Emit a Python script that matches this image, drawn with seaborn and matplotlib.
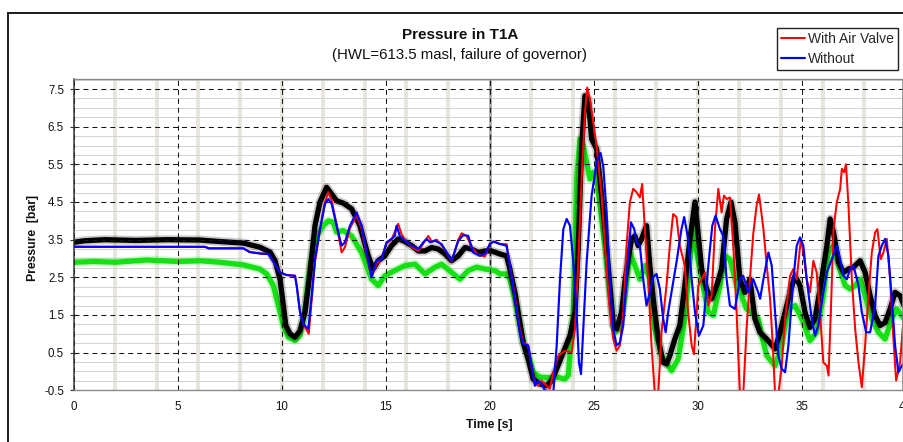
import numpy as np
import matplotlib
matplotlib.use("Agg")
import matplotlib.pyplot as plt
import seaborn as sns
from matplotlib.patches import Rectangle
from matplotlib.lines import Line2D

# ---------------- data ----------------
t_black = [0, 0.5, 1.5, 3, 4.5, 6.07, 7.03, 8.15, 8.95, 9.44,
           9.68, 9.92, 10.08, 10.2, 10.4, 10.64, 10.88, 11.12, 11.36, 11.6,
           11.84, 12.16, 12.4, 12.64, 12.96, 13.36, 13.76, 14.16, 14.4, 14.64,
           14.96, 15.28, 15.6, 15.92, 16.25, 16.57, 16.89, 17.21, 17.53, 17.85,
           18.17, 18.49, 18.81, 19.13, 19.45, 19.77, 20.09, 20.49, 20.81, 20.97,
           21.21, 21.45, 21.61, 21.85, 22.09, 22.41, 22.73, 22.97, 23.22, 23.54,
           23.86, 24.1, 24.26, 24.42, 24.58, 24.74, 24.9, 25.14, 25.3, 25.54,
           25.78, 25.94, 26.1, 26.34, 26.5, 26.66, 26.82, 26.98, 27.14, 27.3,
           27.54, 27.7, 27.86, 28.1, 28.34, 28.5, 28.66, 28.9, 29.14, 29.38,
           29.63, 29.87, 30.03, 30.19, 30.43, 30.67, 30.91, 31.15, 31.39, 31.6,
           31.79, 32.03, 32.27, 32.51, 32.75, 32.99, 33.32, 33.72, 33.96, 34.2,
           34.44, 34.68, 34.92, 35.16, 35.4, 35.64, 35.96, 36.21, 36.37, 36.53,
           36.77, 37.01, 37.25, 37.49, 37.81, 38.05, 38.29, 38.53, 38.77, 39.01,
           39.25, 39.49, 39.73, 39.92]
p_black = [3.43, 3.47, 3.5, 3.48, 3.5, 3.49, 3.45, 3.41, 3.3, 3.17,
           2.94, 2.45, 1.75, 1.22, 1.0, 0.91, 1.08, 1.57, 2.63, 3.87,
           4.5, 4.89, 4.71, 4.53, 4.47, 4.32, 3.87, 3.07, 2.72, 2.94,
           3.07, 3.34, 3.52, 3.45, 3.34, 3.2, 3.2, 3.29, 3.25, 3.12,
           2.94, 3.07, 3.29, 3.25, 3.16, 3.2, 3.2, 3.12, 3.07, 2.72,
           2.1, 1.3, 0.77, 0.33, -0.2, -0.33, -0.38, -0.25, 0.07, 0.51,
           0.95, 1.57, 3.34, 5.99, 7.32, 7.23, 6.17, 5.91, 5.11, 3.78,
           2.28, 1.22, 1.13, 1.57, 2.37, 2.98, 3.52, 3.6, 3.34, 3.52,
           3.87, 2.81, 1.93, 0.86, 0.24, 0.2, 0.42, 0.86, 1.22, 2.28,
           3.52, 4.5, 3.6, 2.72, 2.19, 1.93, 2.28, 2.72, 4.05, 4.5,
           3.96, 2.45, 2.1, 2.45, 1.4, 1.04, 0.86, 0.6, 1.04, 1.57,
           2.1, 2.54, 2.28, 1.57, 1.17, 1.4, 2.45, 3.34, 4.05, 3.69,
           2.9, 2.63, 2.72, 2.77, 2.94, 2.63, 2.01, 1.48, 1.22, 1.3,
           1.66, 2.1, 2.01, 1.75]

t_green = [0, 1, 2, 3.5, 5, 6.07, 7.03, 8.15, 8.95, 9.28,
           9.6, 9.84, 10.08, 10.32, 10.64, 10.88, 11.12, 11.36, 11.6, 12.0,
           12.24, 12.48, 12.64, 12.96, 13.36, 13.84, 14.32, 14.64, 14.96, 15.44,
           15.92, 16.41, 16.89, 17.37, 17.69, 18.17, 18.57, 18.97, 19.37, 19.77,
           20.25, 20.49, 20.81, 20.97, 21.21, 21.45, 21.61, 21.85, 22.09, 22.41,
           22.89, 23.22, 23.62, 23.78, 24.02, 24.18, 24.34, 24.5, 24.66, 24.82,
           24.98, 25.14, 25.3, 25.54, 25.78, 26.02, 26.26, 26.5, 26.74, 26.98,
           27.22, 27.46, 27.7, 27.94, 28.26, 28.74, 29.06, 29.38, 29.63, 29.79,
           29.95, 30.19, 30.51, 30.75, 31.07, 31.31, 31.55, 31.87, 32.11, 32.35,
           32.59, 32.91, 33.1, 33.32, 33.72, 34.04, 34.36, 34.68, 35.0, 35.4,
           35.72, 36.04, 36.29, 36.53, 36.77, 37.09, 37.33, 37.57, 37.81, 38.05,
           38.37, 38.69, 39.01, 39.33, 39.57, 39.92]
p_green = [2.9, 2.92, 2.9, 2.96, 2.92, 2.94, 2.9, 2.83, 2.72, 2.59,
           2.28, 1.75, 1.22, 0.91, 0.82, 0.96, 1.66, 2.81, 3.52, 3.87,
           4.0, 3.96, 3.7, 3.74, 3.6, 3.16, 2.45, 2.28, 2.54, 2.68,
           2.81, 2.85, 2.59, 2.77, 2.85, 2.63, 2.45, 2.68, 2.77, 2.72,
           2.68, 2.59, 2.59, 2.45, 1.93, 1.22, 0.77, 0.42, -0.02, -0.15,
           -0.17, -0.15, -0.2, -0.1, 1.57, 5.11, 6.17, 5.99, 5.55, 5.11,
           5.29, 5.11, 4.4, 3.34, 2.01, 1.04, 1.13, 2.01, 3.16, 2.81,
           2.45, 2.81, 2.45, 1.13, 0.42, 0.02, 0.33, 1.4, 2.98, 3.78,
           3.16, 2.45, 1.57, 1.49, 2.28, 3.07, 2.98, 2.28, 2.01, 1.66,
           1.57, 1.4, 0.9, 0.42, 0.15, 0.69, 1.66, 1.75, 1.4, 0.82,
           1.04, 2.01, 3.16, 3.34, 2.81, 2.28, 2.19, 2.28, 2.45, 2.01,
           1.4, 1.04, 0.86, 1.4, 1.66, 1.4]

t_without = [0, 6.3, 6.5, 8.15, 8.47, 9.0, 9.36, 9.52, 9.92, 10.24,
             10.64, 10.72, 10.88, 11.04, 11.2, 11.28, 11.44, 11.6, 11.84, 12.08,
             12.24, 12.4, 12.64, 12.88, 13.04, 13.28, 13.6, 13.84, 14.08, 14.32,
             14.56, 14.8, 15.04, 15.28, 15.44, 15.52, 15.68, 15.92, 16.25, 16.57,
             16.81, 16.97, 17.13, 17.37, 17.69, 17.93, 18.17, 18.49, 18.73, 18.97,
             19.21, 19.53, 19.77, 20.01, 20.17, 20.41, 20.81, 20.97, 21.21, 21.45,
             21.61, 21.85, 22.01, 22.17, 22.33, 22.49, 22.65, 23.06, 23.22, 23.38,
             23.54, 23.7, 23.86, 24.02, 24.18, 24.29, 24.39, 24.5, 24.66, 24.9,
             25.14, 25.33, 25.46, 25.62, 25.78, 25.94, 26.1, 26.26, 26.42, 26.58,
             26.79, 26.95, 27.06, 27.22, 27.38, 27.54, 27.7, 27.86, 28.02, 28.18,
             28.34, 28.46, 28.58, 28.74, 28.98, 29.22, 29.35, 29.54, 29.71, 29.87,
             30.06, 30.27, 30.51, 30.7, 30.86, 31.07, 31.23, 31.39, 31.55, 31.79,
             32.03, 32.19, 32.43, 32.67, 32.91, 33.0, 33.16, 33.4, 33.56, 33.72,
             33.88, 34.04, 34.2, 34.36, 34.6, 34.76, 34.92, 35.08, 35.24, 35.48,
             35.64, 35.8, 36.04, 36.21, 36.45, 36.69, 36.85, 37.01, 37.17, 37.33,
             37.49, 37.73, 37.89, 38.1, 38.29, 38.53, 38.69, 38.85, 39.01, 39.17,
             39.33, 39.49, 39.65, 39.81, 39.92]
p_without = [3.31, 3.31, 3.27, 3.27, 3.17, 3.13, 3.12, 2.98, 2.63, 2.56,
             2.54, 2.28, 1.57, 1.26, 1.17, 1.13, 2.0, 2.98, 3.78, 4.45,
             4.58, 4.45, 3.87, 3.34, 3.43, 3.87, 4.22, 3.87, 3.16, 2.5,
             2.94, 2.98, 3.43, 3.52, 3.6, 3.87, 3.6, 3.47, 3.34, 3.25,
             3.43, 3.52, 3.43, 3.47, 3.38, 3.16, 2.94, 3.47, 3.62, 3.6,
             3.16, 3.07, 3.12, 3.38, 3.45, 3.4, 3.34, 2.81, 1.93, 1.04,
             0.73, 0.69, 0.15, -0.38, -0.25, -0.33, -0.5, -0.55, 0.69, 2.45,
             3.78, 4.05, 3.87, 2.9, 1.57, 0.24, -0.07, 1.13, 2.9, 4.67,
             5.55, 5.8, 5.45, 4.22, 2.45, 1.13, 0.69, 0.77, 1.22, 2.45,
             3.96, 3.78, 3.43, 3.34, 2.45, 1.75, 2.1, 2.5, 2.59, 2.19,
             1.4, 1.04, 1.57, 2.1, 2.9, 3.78, 4.1, 3.52, 2.45, 1.57,
             0.95, 1.22, 2.81, 3.87, 4.14, 3.78, 3.6, 2.45, 1.75, 1.66,
             2.45, 2.54, 2.1, 2.45, 2.1, 1.93, 2.45, 3.16, 2.81, 1.57,
             0.42, 0.07, -0.02, 0.69, 2.45, 3.34, 3.56, 3.34, 2.45, 1.4,
             0.95, 1.22, 2.1, 2.63, 2.98, 3.34, 2.98, 2.54, 2.45, 2.72,
             2.81, 2.28, 1.57, 1.04, 1.04, 1.75, 3.07, 3.34, 3.52, 3.07,
             1.93, 0.69, -0.02, 0.15, 0.24]

t_valve = [0, 6.3, 6.5, 8.15, 8.47, 9.0, 9.36, 9.52, 9.92, 10.24,
           10.64, 10.72, 10.88, 11.04, 11.2, 11.3, 11.44, 11.6, 11.84, 12.08,
           12.24, 12.4, 12.64, 12.88, 13.04, 13.28, 13.6, 13.84, 14.08, 14.32,
           14.56, 14.8, 15.04, 15.28, 15.6, 15.76, 15.92, 16.25, 16.57, 16.81,
           17.05, 17.21, 17.45, 17.69, 17.93, 18.17, 18.49, 18.65, 18.89, 19.13,
           19.45, 19.77, 20.01, 20.25, 20.49, 20.81, 20.97, 21.21, 21.45, 21.61,
           21.85, 22.01, 22.17, 22.33, 22.49, 22.65, 22.89, 23.06, 23.3, 23.62,
           23.94, 24.1, 24.26, 24.42, 24.58, 24.69, 24.82, 24.98, 25.14, 25.38,
           25.54, 25.78, 25.94, 26.1, 26.26, 26.42, 26.58, 26.74, 26.9, 27.06,
           27.22, 27.33, 27.46, 27.62, 27.78, 27.94, 28.1, 28.26, 28.5, 28.66,
           28.82, 28.98, 29.14, 29.38, 29.54, 29.71, 29.82, 29.95, 30.03, 30.19,
           30.35, 30.51, 30.67, 30.83, 30.99, 31.15, 31.26, 31.39, 31.55, 31.71,
           31.87, 32.03, 32.19, 32.35, 32.51, 32.67, 32.83, 32.95, 33.16, 33.32,
           33.48, 33.61, 33.72, 33.88, 34.04, 34.2, 34.44, 34.6, 34.76, 34.96,
           35.08, 35.24, 35.4, 35.56, 35.72, 35.88, 36.04, 36.21, 36.29, 36.4,
           36.53, 36.69, 36.85, 36.93, 37.04, 37.13, 37.25, 37.41, 37.57, 37.73,
           37.89, 38.05, 38.21, 38.37, 38.53, 38.64, 38.8, 38.93, 39.09, 39.25,
           39.41, 39.54, 39.73, 39.92]
p_valve = [3.31, 3.31, 3.27, 3.27, 3.17, 3.13, 3.12, 2.98, 2.63, 2.56,
           2.54, 2.28, 1.6, 1.25, 1.1, 1.0, 1.9, 2.9, 3.75, 4.5,
           4.76, 4.55, 3.9, 3.16, 3.3, 3.8, 4.15, 3.8, 3.1, 2.5,
           2.85, 3.0, 3.4, 3.5, 3.92, 3.65, 3.5, 3.3, 3.2, 3.4,
           3.6, 3.45, 3.5, 3.35, 3.15, 2.92, 3.5, 3.67, 3.6, 3.3,
           3.1, 3.05, 3.4, 3.45, 3.38, 3.38, 2.81, 2.01, 1.13, 0.77,
           0.69, 0.15, -0.29, -0.38, -0.25, -0.33, -0.46, -0.02, 0.42, 0.55,
           0.51, 1.13, 2.9, 5.11, 6.88, 7.54, 7.23, 6.62, 5.99, 4.67,
           3.34, 1.57, 0.86, 0.55, 0.69, 1.57, 3.34, 4.5, 4.85, 4.76,
           4.62, 4.98, 3.78, 2.45, 0.69, -0.6, -0.6, 1.04, 2.28, 3.34,
           4.18, 4.1, 3.34, 2.81, 1.57, 0.69, 0.46, 1.57, 2.28, 2.45,
           2.63, 1.75, 2.01, 3.78, 4.85, 4.22, 4.67, 4.58, 4.62, 3.34,
           1.57, -0.6, -0.6, 1.13, 2.45, 3.65, 4.4, 4.7, 3.78, 2.81,
           1.93, 0.69, -0.6, -0.6, 0.15, 1.4, 2.54, 2.72, 2.45, 3.52,
           3.16, 2.45, 2.1, 2.94, 2.63, 1.57, 0.24, 0.15, -0.11, 1.57,
           3.78, 4.5, 4.85, 5.38, 5.29, 5.5, 4.4, 2.45, 1.13, 0.24,
           -0.42, 0.69, 2.01, 3.16, 3.69, 3.78, 2.98, 3.16, 3.52, 2.45,
           0.86, -0.24, 0.24, 1.57]

series_labels = ["With Air Valve", "Without"]
x_ticks = [0, 5, 10, 15, 20, 25, 30, 35, 40]
y_ticks = [-0.5, 0.5, 1.5, 2.5, 3.5, 4.5, 5.5, 6.5, 7.5]
title = "Pressure in T1A"
subtitle = "(HWL=613.5 masl, failure of governor)"

# ---------------- style ----------------
sns.set_theme(style="white")
plt.rcParams['font.family'] = ['Liberation Sans', 'DejaVu Sans']
plt.rcParams['axes.unicode_minus'] = False

W, H = 904, 442
fig = plt.figure(figsize=(W / 100, H / 100), dpi=100)
ax_l, ax_r, ax_t, ax_b = 73.7, 905.7, 79.0, 390.3
ax = fig.add_axes([ax_l / W, 1 - ax_b / H, (ax_r - ax_l) / W, (ax_b - ax_t) / H])
ax.set_xlim(0, 40)
ax.set_ylim(-0.5, 7.766)
ax.set_facecolor('white')

ax.set_xticks(x_ticks)
ax.set_yticks(y_ticks)
ax.set_yticklabels([f"{v:.1f}" for v in y_ticks])
ax.set_xticks(np.arange(2, 40, 2), minor=True)
ax.set_yticks(np.arange(-0.5, 7.76, 0.25), minor=True)

ax.set_axisbelow(True)
ax.grid(False)
ax.grid(which='minor', axis='y', color='#d4d4d4', lw=0.75)
ax.grid(which='minor', axis='x', color='#e8e4de', lw=2.8)
for xv in [10, 30]:
    ax.axvline(xv, color='#e8e4de', lw=2.8, zorder=0.6)
ax.axvline(20, color='#a9a9a9', lw=2.0, zorder=0.6)

dash = (0, (4.8, 3.8))
for yv in y_ticks:
    ax.axhline(yv, color='#151515', lw=0.75, ls=dash, zorder=2.5)
for xv in x_ticks:
    ax.axvline(xv, color='#151515', lw=0.75, ls=dash, zorder=2.5)

# thick "measured" traces with soft edges
for tt, pp, col in [(t_green, p_green, '#14e014'), (t_black, p_black, '#000000')]:
    sns.lineplot(x=tt, y=pp, ax=ax, color=col, lw=6.5, alpha=0.2, sort=False,
                 estimator=None, legend=False, zorder=2)
    sns.lineplot(x=tt, y=pp, ax=ax, color=col, lw=3.8, sort=False,
                 estimator=None, legend=False, zorder=2)

sns.lineplot(x=t_valve, y=p_valve, ax=ax, color='#ff0000', lw=1.45, sort=False,
             estimator=None, legend=False, zorder=3)
sns.lineplot(x=t_without, y=p_without, ax=ax, color='#0000ff', lw=1.55, sort=False,
             estimator=None, legend=False, zorder=3.1)

# visible right frame edge of the plot area
ax.axvline(39.87, color='#8a8a8a', lw=1.2, zorder=4)

for side, sp in ax.spines.items():
    sp.set_visible(True)
    sp.set_color('#8a8a8a')
    sp.set_linewidth(1.0)
ax.spines['left'].set_color('#333333')
ax.spines['left'].set_linewidth(1.1)

ax.tick_params(axis='y', which='major', left=True, length=3, width=0.8,
               color='#333333', pad=4, labelsize=8.3, labelcolor='#111111')
ax.tick_params(axis='x', which='major', bottom=True, length=0, pad=7.5,
               labelsize=8.3, labelcolor='#111111')
ax.tick_params(which='minor', length=0)

ax.set_xlabel("Time [s]", fontsize=8.8, fontweight='bold', color='#111111')
ax.set_ylabel("Pressure  [bar]", fontsize=8.8, fontweight='bold', color='#111111')
ax.xaxis.set_label_coords(0.5, -0.093)
ax.yaxis.set_label_coords(-0.0423, 0.49)

handles = [Line2D([], [], color='#ff0000', lw=1.45), Line2D([], [], color='#0000ff', lw=1.55)]
leg = ax.legend(handles, series_labels, loc='upper right',
                bbox_to_anchor=(898 / W, 1 - 28 / H), bbox_transform=fig.transFigure,
                frameon=True, fancybox=False, edgecolor='#222222', framealpha=1,
                fontsize=10, handlelength=1.75, handletextpad=0.2, labelspacing=0.42,
                borderpad=0.3, borderaxespad=0)
leg.get_frame().set_linewidth(1.0)

fig.text(460 / W, 1 - 35 / H, title, ha='center', va='center', fontsize=11,
         fontweight='bold', color='#111111')
fig.text(460 / W, 1 - 55 / H, subtitle, ha='center', va='center', fontsize=10.8,
         color='#111111')

fig.patches.append(Rectangle((8 / W, -0.2), 1.2, 1 - 13 / H + 0.2, transform=fig.transFigure,
                             fill=False, lw=1.4, ec='#1a1a1a'))

fig.savefig("out.png", dpi=100)
